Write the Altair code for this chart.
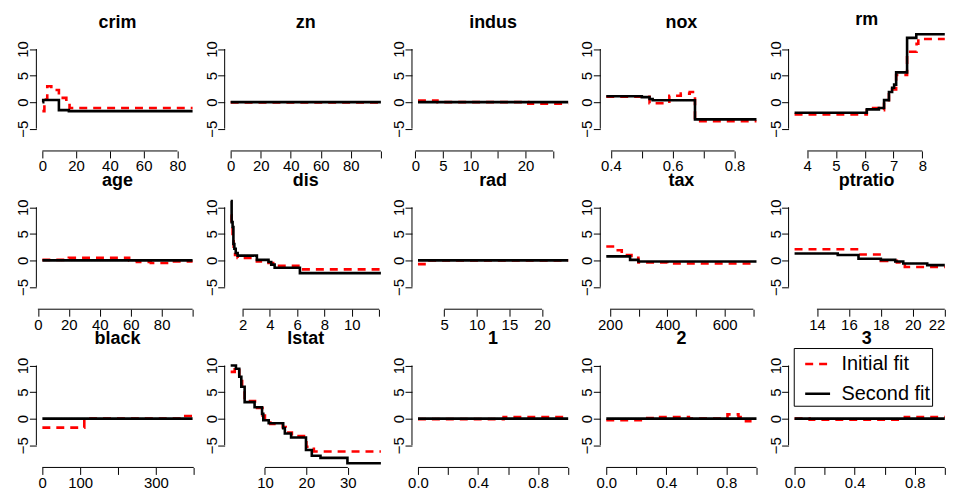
import altair as alt
import pandas as pd

FONT = "Liberation Sans"
RED = "#FF0000"
W, H = 163, 120
YDOM = [-9.2, 13.3]
Y_TICKS = [-5, 0, 5, 10]
SERIES = ["Initial fit", "Second fit"]

# ---------- panel titles, data ranges, ticks ----------
names = ["crim", "zn", "indus", "nox", "rm",
         "age", "dis", "rad", "tax", "ptratio",
         "black", "lstat", "1", "2", "3"]
x_ranges = [(0.00632, 88.98), (0, 100), (0.46, 27.74), (0.385, 0.871), (3.561, 8.78),
            (2.9, 100), (1.13, 12.13), (1, 24), (187, 711), (12.6, 22.0),
            (0.32, 396.9), (1.73, 37.97), (0, 1), (0, 1), (0, 1)]
x_ticks = [[0, 20, 40, 60, 80], [0, 20, 40, 60, 80, 100], [0, 5, 10, 15, 20, 25],
           [0.4, 0.5, 0.6, 0.7, 0.8], [4, 5, 6, 7, 8],
           [0, 20, 40, 60, 80, 100], [2, 4, 6, 8, 10, 12], [5, 10, 15, 20],
           [200, 300, 400, 500, 600, 700], [14, 16, 18, 20, 22],
           [0, 100, 200, 300, 400], [10, 20, 30],
           [0, 0.2, 0.4, 0.6, 0.8, 1.0], [0, 0.2, 0.4, 0.6, 0.8, 1.0], [0, 0.2, 0.4, 0.6, 0.8, 1.0]]
x_shown = [[0, 20, 40, 60, 80], [0, 20, 40, 60, 80], [0, 5, 10, 20],
           [0.4, 0.6, 0.8], [4, 5, 6, 7, 8],
           [0, 20, 40, 60, 80], [2, 4, 6, 8, 10], [5, 10, 15, 20],
           [200, 400, 600], [14, 16, 18, 20, 22],
           [0, 100, 300], [10, 20, 30],
           [0, 0.4, 0.8], [0, 0.4, 0.8], [0, 0.4, 0.8]]
x_formats = ["d", "d", "d", ".1f", "d", "d", "d", "d", "d", "d", "d", "d", ".1f", ".1f", ".1f"]

# ---------- step values (x where a step starts, value) ----------
crim_init_x = [0.00632, 1.2, 2.9, 5.3, 9.8, 14.2, 16.1, 88.98]
crim_init_y = [-1.7, 0.5, 3.0, 2.3, 0.8, -0.2, -1.1, -1.1]
crim_sec_x = [0.00632, 0.5, 9.8, 15.7, 88.98]
crim_sec_y = [0.0, 0.4, -1.5, -1.7, -1.7]

zn_init_x = [0, 100]
zn_init_y = [-0.05, -0.05]
zn_sec_x = [0, 100]
zn_sec_y = [0.0, 0.0]

indus_init_x = [0.46, 4.0, 20.5, 27.74]
indus_init_y = [0.3, 0.0, -0.3, -0.3]
indus_sec_x = [0.46, 27.74]
indus_sec_y = [0.0, 0.0]

nox_init_x = [0.385, 0.525, 0.589, 0.626, 0.655, 0.672, 0.871]
nox_init_y = [1.0, -0.2, 1.2, 1.6, 1.9, -3.6, -3.6]
nox_sec_x = [0.385, 0.50, 0.525, 0.535, 0.672, 0.871]
nox_sec_y = [1.1, 0.95, 0.6, 0.35, -3.25, -3.25]

rm_init_x = [3.561, 6.07, 6.49, 6.67, 6.84, 6.95, 7.09, 7.47, 7.8, 7.86, 8.78]
rm_init_y = [-2.3, -1.1, -1.5, 0.1, 1.5, 2.4, 5.1, 9.5, 11.0, 11.9, 11.9]
rm_sec_x = [3.561, 6.07, 6.49, 6.67, 6.84, 6.95, 7.02, 7.09, 7.47, 7.79, 8.78]
rm_sec_y = [-2.0, -1.37, -1.1, 0.37, 1.9, 2.7, 3.3, 5.6, 12.1, 12.8, 12.8]

age_init_x = [2.9, 20, 59, 64, 73, 85, 100]
age_init_y = [0.1, 0.5, 0.0, -0.3, -0.5, -0.2, -0.2]
age_sec_x = [2.9, 100]
age_sec_y = [0.0, 0.0]

dis_init_x = [1.13, 1.2, 1.27, 1.35, 1.45, 1.64, 3.05, 3.9, 4.5, 6.2, 12.13]
dis_init_y = [8.5, 6.2, 4.0, 2.0, 1.0, 0.45, -0.2, -0.5, -1.0, -1.7, -1.7]
dis_sec_x = [1.13, 1.2, 1.27, 1.33, 1.4, 1.5, 1.64, 3.05, 3.9, 4.1, 4.35, 6.2, 12.13]
dis_sec_y = [11.2, 7.2, 6.3, 3.1, 2.2, 1.4, 0.9, 0.1, -0.3, -0.8, -1.4, -2.4, -2.4]

rad_init_x = [1, 2, 24]
rad_init_y = [-0.7, 0.0, 0.0]
rad_sec_x = [1, 24]
rad_sec_y = [0.0, 0.0]

tax_init_x = [187, 216, 241, 275, 299, 400, 711]
tax_init_y = [2.6, 1.9, 1.0, 0.5, -0.4, -0.6, -0.6]
tax_sec_x = [187, 270, 299, 711]
tax_sec_y = [0.75, 0.1, -0.2, -0.2]

ptratio_init_x = [12.6, 16.65, 18.0, 19.0, 19.5, 22.0]
ptratio_init_y = [2.1, 1.1, -0.1, -0.4, -1.25, -1.25]
ptratio_sec_x = [12.6, 15.3, 16.6, 18.0, 18.9, 19.4, 20.9, 22.0]
ptratio_sec_y = [1.3, 1.0, 0.3, 0.1, -0.2, -0.6, -0.9, -0.9]

black_init_x = [0.32, 111, 370, 392, 396.9]
black_init_y = [-1.7, 0.0, 0.5, -0.4, -0.4]
black_sec_x = [0.32, 396.9]
black_sec_y = [0.0, 0.0]

lstat_init_x = [1.73, 2.7, 3.8, 4.5, 5.1, 7.6, 9.4, 10.0, 11.3, 14.3, 15.0, 16.5, 20.0, 21.8, 37.97]
lstat_init_y = [8.8, 9.6, 7.5, 5.5, 3.3, 2.0, 0.6, -0.5, -1.0, -1.6, -2.6, -3.3, -5.3, -6.2, -6.2]
lstat_sec_x = [1.73, 3.0, 3.8, 4.3, 5.1, 7.5, 9.3, 9.6, 10.9, 14.4, 14.8, 16.3, 19.9, 21.3, 23.4, 29.9, 37.97]
lstat_sec_y = [10.0, 9.4, 7.9, 6.0, 3.1, 2.15, 0.9, -0.3, -0.86, -1.8, -2.8, -3.55, -5.9, -7.0, -7.4, -8.4, -8.4]

p1_init_x = [0, 0.57, 1.0]
p1_init_y = [-0.1, 0.3, 0.3]
p1_sec_x = [0, 1.0]
p1_sec_y = [0.0, 0.0]

p2_init_x = [0, 0.257, 0.334, 0.55, 0.807, 0.88, 0.93, 1.0]
p2_init_y = [-0.3, 0.1, 0.3, 0.0, 0.8, 0.3, -0.5, -0.5]
p2_sec_x = [0, 1.0]
p2_sec_y = [0.0, 0.0]

p3_init_x = [0, 0.1, 0.734, 1.0]
p3_init_y = [0.0, -0.2, 0.3, 0.3]
p3_sec_x = [0, 1.0]
p3_sec_y = [0.0, 0.0]

panel_series = [
    (crim_init_x, crim_init_y, crim_sec_x, crim_sec_y),
    (zn_init_x, zn_init_y, zn_sec_x, zn_sec_y),
    (indus_init_x, indus_init_y, indus_sec_x, indus_sec_y),
    (nox_init_x, nox_init_y, nox_sec_x, nox_sec_y),
    (rm_init_x, rm_init_y, rm_sec_x, rm_sec_y),
    (age_init_x, age_init_y, age_sec_x, age_sec_y),
    (dis_init_x, dis_init_y, dis_sec_x, dis_sec_y),
    (rad_init_x, rad_init_y, rad_sec_x, rad_sec_y),
    (tax_init_x, tax_init_y, tax_sec_x, tax_sec_y),
    (ptratio_init_x, ptratio_init_y, ptratio_sec_x, ptratio_sec_y),
    (black_init_x, black_init_y, black_sec_x, black_sec_y),
    (lstat_init_x, lstat_init_y, lstat_sec_x, lstat_sec_y),
    (p1_init_x, p1_init_y, p1_sec_x, p1_sec_y),
    (p2_init_x, p2_init_y, p2_sec_x, p2_sec_y),
    (p3_init_x, p3_init_y, p3_sec_x, p3_sec_y),
]

legend = alt.Legend(
    orient="none", legendX=761, legendY=318, title=None,
    labelFont=FONT, labelFontSize=20, labelColor="black", labelOffset=10,
    symbolType="stroke", symbolSize=625, symbolStrokeWidth=2.5, symbolOffset=8,
    strokeColor="black", fillColor="white", padding=2, rowPadding=6,
    labelLimit=300,
)


def make_panel(i):
    name = names[i]
    lo, hi = x_ranges[i]
    ext = 0.04 * (hi - lo)
    last_col = (i % 5 == 4)
    # the right-most column ends at its last data value (nothing is drawn beyond it)
    right = hi if last_col else hi + ext
    width = W * (right - (lo - ext)) / (hi - lo + 2 * ext)
    xscale = alt.Scale(domain=[lo - ext, right], nice=False, zero=False)
    yscale = alt.Scale(domain=YDOM, nice=False, zero=False)
    ticks = x_ticks[i]
    shown = ",".join(repr(v) for v in x_shown[i])
    xaxis = alt.Axis(
        values=ticks, format=x_formats[i],
        labelExpr=f"indexof([{shown}], datum.value) >= 0 ? datum.label : ''",
        domain=False, grid=False, tickSize=7, tickColor="black", tickWidth=1,
        labelFont=FONT, labelFontSize=15, labelColor="black", labelPadding=1,
        labelFlush=last_col, labelOverlap=False, labelBaseline="top", title=None,
    )
    yaxis = alt.Axis(
        values=Y_TICKS, domain=False, grid=False, tickSize=7, tickColor="black",
        tickWidth=1, labelFont=FONT, labelFontSize=15, labelColor="black",
        labelAngle=270, labelAlign="center", labelBaseline="alphabetic",
        labelPadding=1.5, labelFlush=False, labelOverlap=False, title=None,
    )
    ix, iy, sx, sy = panel_series[i]
    df = pd.concat([
        pd.DataFrame({"x": ix, "y": iy, "fit": SERIES[0]}),
        pd.DataFrame({"x": sx, "y": sy, "fit": SERIES[1]}),
    ], ignore_index=True)

    lines = alt.Chart(df).mark_line(
        interpolate="step-after", strokeWidth=2.6, strokeCap="butt"
    ).encode(
        x=alt.X("x:Q", scale=xscale, axis=xaxis),
        y=alt.Y("y:Q", scale=yscale, axis=yaxis),
        color=alt.Color("fit:N", scale=alt.Scale(domain=SERIES, range=[RED, "black"]), legend=legend),
        strokeDash=alt.StrokeDash("fit:N", scale=alt.Scale(domain=SERIES, range=[[8, 6], [1, 0]]), legend=legend),
        detail="fit:N",
    )
    xline = alt.Chart(pd.DataFrame({"x": [ticks[0]], "x2": [ticks[-1]]})).mark_rule(
        color="black", strokeWidth=1
    ).encode(x=alt.X("x:Q", scale=xscale, axis=xaxis), x2="x2:Q", y=alt.value(H))
    yline = alt.Chart(pd.DataFrame({"y": [Y_TICKS[0]], "y2": [Y_TICKS[-1]]})).mark_rule(
        color="black", strokeWidth=1
    ).encode(y=alt.Y("y:Q", scale=yscale, axis=yaxis), y2="y2:Q", x=alt.value(0))

    return alt.layer(lines, xline, yline).properties(
        width=width, height=H,
        title=alt.TitleParams(
            text=name, font=FONT, fontSize=18, fontWeight="bold", color="black",
            anchor="middle", baseline="alphabetic", offset=-14, frame="group",
        ),
    )


panels = [make_panel(i) for i in range(15)]
chart = alt.concat(
    *panels, columns=5, spacing={"row": 39, "column": 25.2}, bounds="flush"
).properties(
    padding={"left": 7.5, "top": 1.5, "right": 0, "bottom": -3},
    background="white",
).configure_view(strokeWidth=0)

chart.save("out.html", embed_options={"renderer": "svg", "actions": False})
